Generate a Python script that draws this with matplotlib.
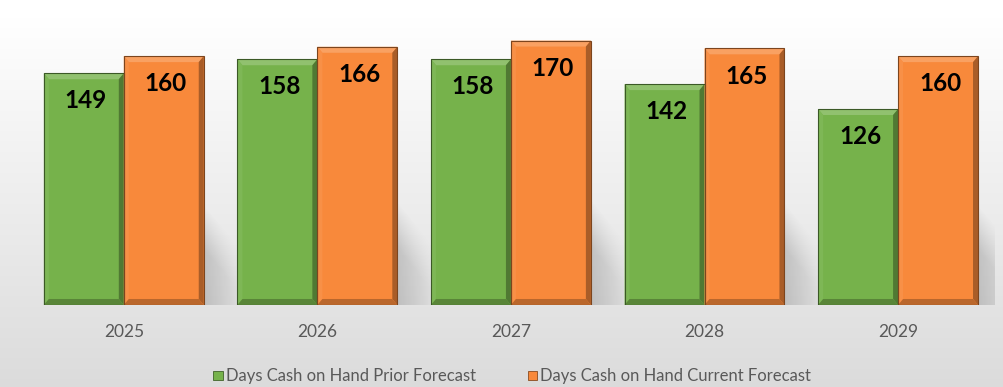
import numpy as np
import matplotlib.pyplot as plt
from matplotlib.patches import Polygon, Rectangle
from matplotlib.colors import to_rgb

years = ['2025', '2026', '2027', '2028', '2029']
prior = [149, 158, 158, 142, 126]
current = [160, 166, 170, 165, 160]
series_names = ['Days Cash on Hand Prior Forecast', 'Days Cash on Hand Current Forecast']

green = '#76b24b'
orange = '#f8893b'

plt.rcParams['font.family'] = ['Lato', 'DejaVu Sans']

fig = plt.figure(figsize=(10.04, 3.87), dpi=100)

# soft white-to-grey backdrop
bg = fig.add_axes([0, 0, 1, 1], zorder=-5)
grad = np.linspace(0, 1, 256)[:, None]
top_col = np.array([1.0, 1.0, 1.0])
bot_col = np.array([0.86, 0.86, 0.86])
img = top_col * (1 - grad[..., None]) + bot_col * grad[..., None]
img = np.repeat(img, 2, axis=1)
bg.imshow(img, aspect='auto', extent=[0, 1, 0, 0.955], origin='upper')
bg.set_xlim(0, 1)
bg.set_ylim(0, 1)
bg.axis('off')

ax = fig.add_axes([0.0269, 0.2119, 0.964, 0.7235])
ax.set_facecolor('none')
ax.set_xlim(-0.5, 4.5)
ax.set_ylim(0, 180)

x = np.arange(len(years))
w = 0.413


def shade(c, f):
    r = np.array(to_rgb(c))
    if f >= 0:
        return tuple(r + (1 - r) * f)
    return tuple(r * (1 + f))


# pixel -> data conversions for the bevel size
px_x = 1.0 / 193.6
px_y = 180 / 280.0
bx = 5 * px_x
by = 6 * px_y

# alpha map for the soft cast shadow (u: across, v: up)
u, v = np.meshgrid(np.linspace(0, 1, 60), np.linspace(0, 1, 80))
top = 1 - 0.45 * u
sh_alpha = 0.30 * np.clip((top - v) / 0.45, 0, 1) * (1 - u) ** 0.8
sh_img = np.zeros((80, 60, 4))
sh_img[..., :3] = 0.42
sh_img[..., 3] = sh_alpha


def bevel_bar(x0, h, c):
    x1 = x0 + w
    ax.add_patch(Rectangle((x0, 0), w, h, facecolor=c, edgecolor='none', zorder=3))
    # top, left, right, bottom bevel faces
    faces = [
        ([(x0, h), (x1, h), (x1 - bx, h - by), (x0 + bx, h - by)], shade(c, 0.2)),
        ([(x0, 0), (x0, h), (x0 + bx, h - by), (x0 + bx, by)], shade(c, 0.06)),
        ([(x1, 0), (x1, h), (x1 - bx, h - by), (x1 - bx, by)], shade(c, -0.32)),
        ([(x0, 0), (x1, 0), (x1 - bx, by), (x0 + bx, by)], shade(c, -0.25)),
    ]
    for pts, fc in faces:
        ax.add_patch(Polygon(pts, closed=True, facecolor=fc, edgecolor='none', zorder=4))
    ax.add_patch(Rectangle((x0, 0), w, h, facecolor='none',
                           edgecolor=shade(c, -0.5), linewidth=0.8, zorder=5))


for i in range(len(years)):
    xr = x[i] + w
    ax.imshow(sh_img, extent=[xr, xr + 0.2, 0, current[i] * 0.4], origin='lower',
              aspect='auto', interpolation='bilinear', zorder=2)
    bevel_bar(x[i] - w, prior[i], green)
    bevel_bar(x[i], current[i], orange)
    for xc, val in ((x[i] - w / 2, prior[i]), (x[i] + w / 2, current[i])):
        ax.annotate(str(val), (xc, val), xytext=(1.5, -20), textcoords='offset points',
                    ha='center', va='center', fontsize=17.5, fontweight='bold',
                    color='black', zorder=6)

ax.set_xlim(-0.5, 4.5)
ax.set_ylim(0, 180)
ax.set_xticks(x)
ax.set_xticklabels(years, fontsize=12.5, color='#595959')
ax.tick_params(axis='x', length=0, pad=14)
ax.set_yticks([])
for s in ax.spines.values():
    s.set_visible(False)

# legend
leg_items = [(0.2125, green, series_names[0]), (0.5255, orange, series_names[1])]
for lx, c, name in leg_items:
    fig.patches.append(Rectangle((lx, 0.0175), 0.0095, 0.024, transform=fig.transFigure,
                                 facecolor=c, edgecolor=shade(c, -0.45), linewidth=0.6))
    fig.text(lx + 0.0125, 0.0285, name, fontsize=12, color='#595959',
             ha='left', va='center')

fig.savefig('out.png', dpi=100)
